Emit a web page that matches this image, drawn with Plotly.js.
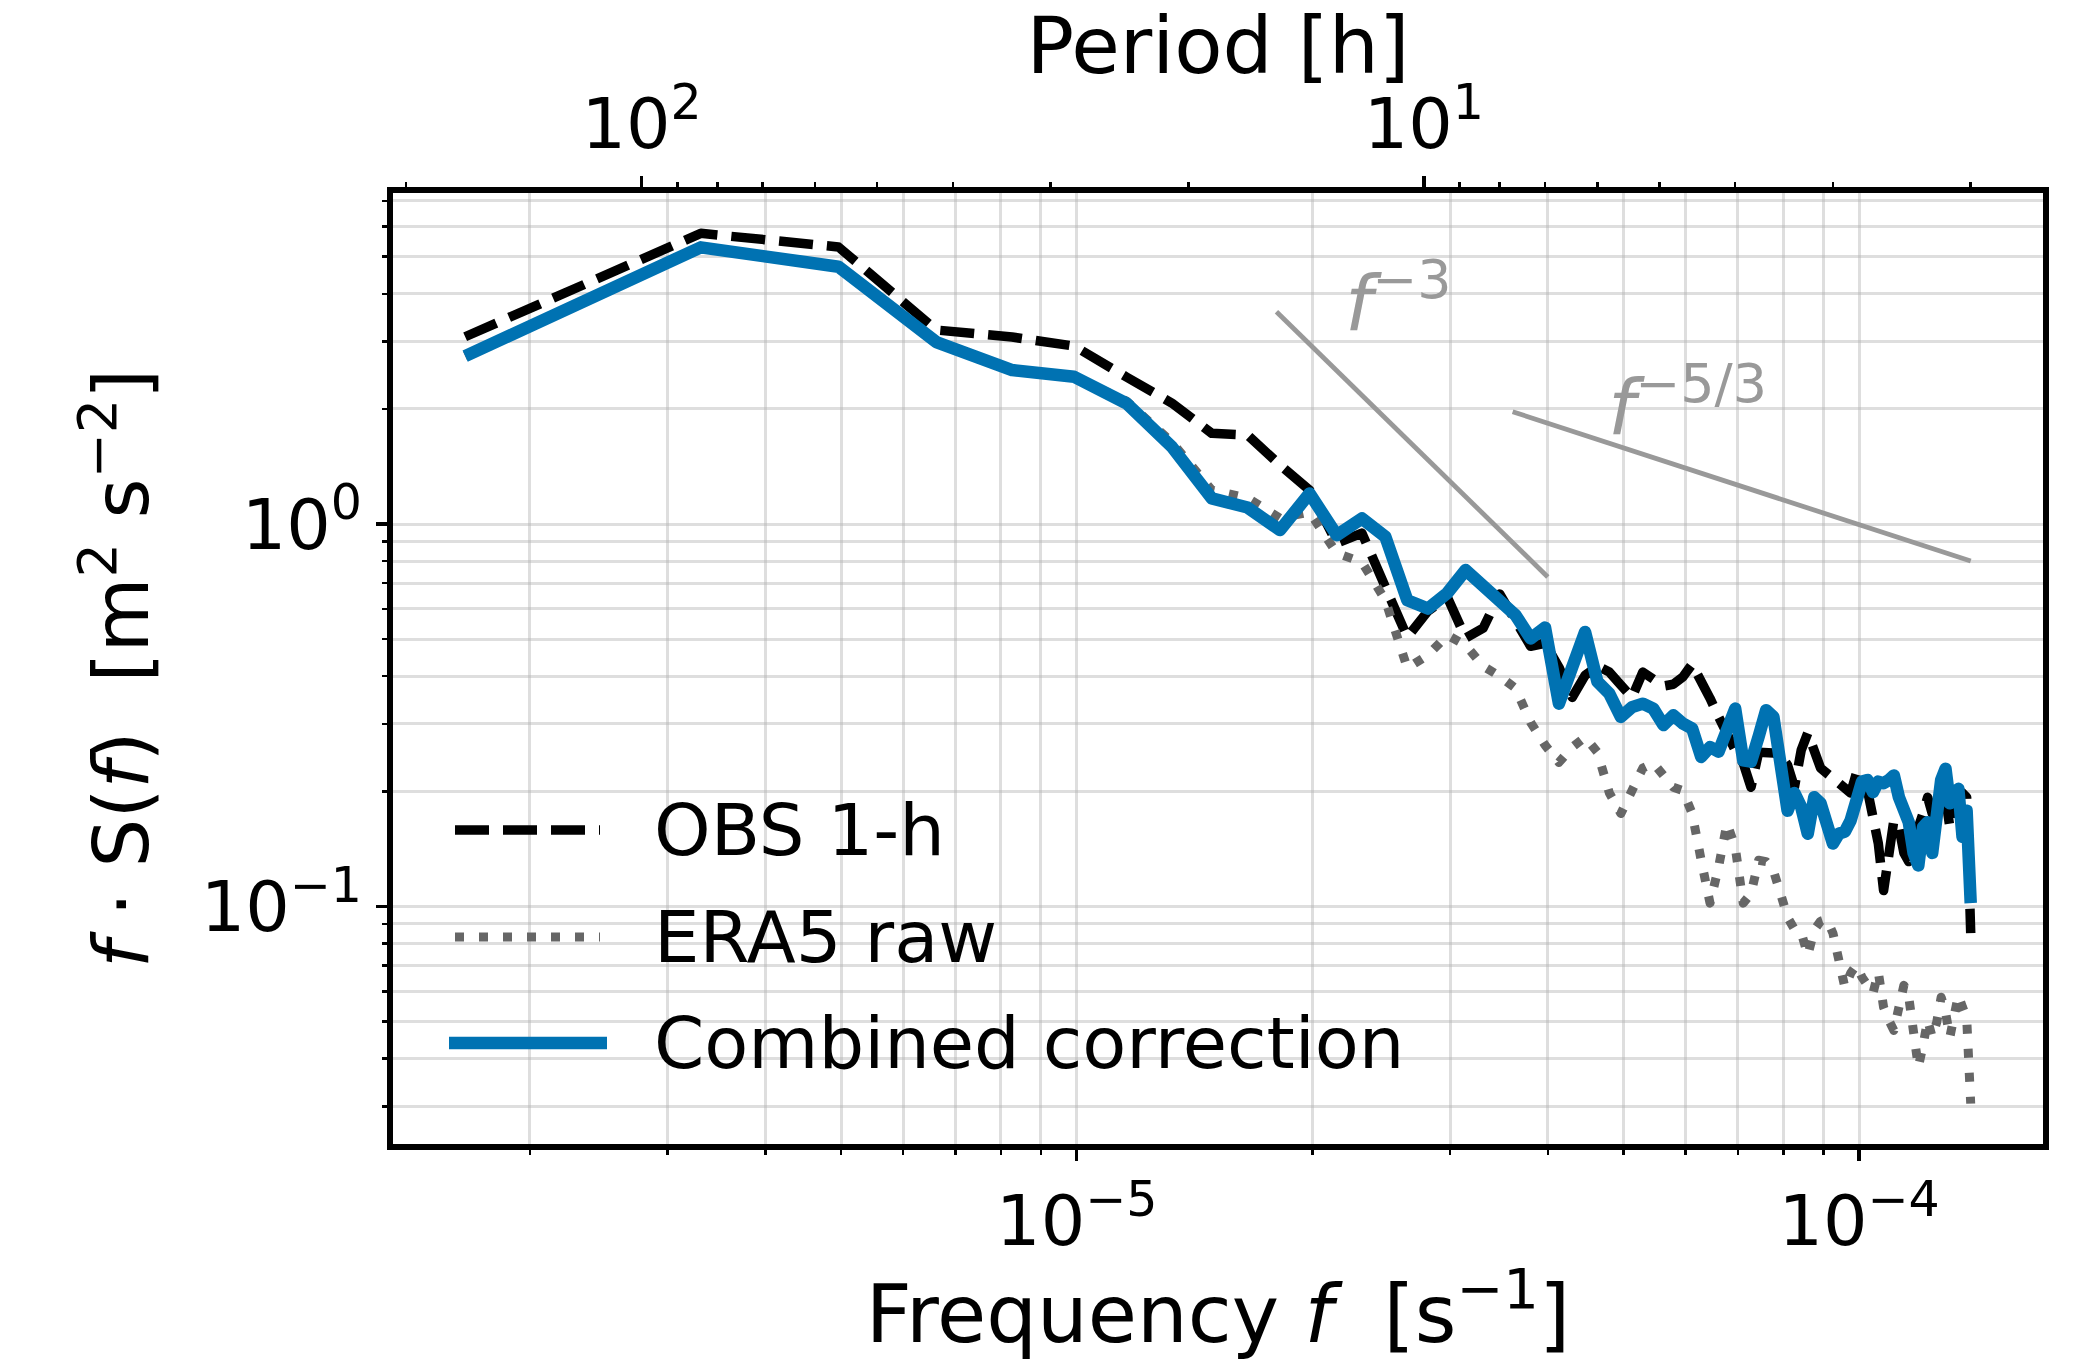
<!DOCTYPE html>
<html><head><meta charset="utf-8">
<script src="https://cdn.plot.ly/plotly-3.0.1.min.js"></script>
<style>
html,body{margin:0;padding:0;background:#fff;}
#chart{width:2077px;height:1361px;}
.scatterlayer .js-line{stroke-linejoin:round;}
</style></head><body><div id="chart"></div>
<script>
// Frequencies in micro-hertz (1e-6 s^-1)
const freq_uHz = [1.653,3.307,4.960,6.614,8.267,9.921,11.574,13.228,14.881,16.534,
 18.188,19.841,21.495,23.148,24.802,26.455,28.108,29.762,31.415,33.069,
 34.722,36.376,38.029,39.683,41.336,42.989,44.643,46.296,47.950,49.603,
 51.257,52.910,54.564,56.217,57.870,59.524,61.177,62.831,64.484,66.138,
 67.791,69.444,71.098,72.751,74.405,76.058,77.712,79.365,81.019,82.672,
 84.325,85.979,87.632,89.286,90.939,92.593,94.246,95.899,97.553,99.206,
 100.860,102.513,104.167,105.820,107.474,109.127,110.780,112.434,114.087,115.741,
 117.394,119.048,120.701,122.354,124.008,125.661,127.315,128.968,130.622,132.275,
 133.929,135.582,137.235,138.889];

const obs1h = [3.088,5.756,5.301,3.216,3.083,2.920,2.423,2.072,1.726,1.708,
 1.426,1.227,0.891,0.947,0.684,0.506,0.592,0.644,0.503,0.534,
 0.656,0.564,0.479,0.488,0.422,0.352,0.402,0.425,0.410,0.379,
 0.352,0.410,0.391,0.377,0.381,0.398,0.430,0.381,0.350,0.313,
 0.280,0.256,0.237,0.205,0.253,0.253,0.252,0.249,0.234,0.205,
 0.256,0.284,0.256,0.230,0.223,0.216,0.211,0.204,0.198,0.223,
 0.218,0.201,0.171,0.146,0.110,0.143,0.168,0.161,0.138,0.131,
 0.149,0.161,0.175,0.193,0.175,0.190,0.182,0.193,0.161,0.168,
 0.186,0.198,0.193,0.0851];

const era5Raw = [2.749,5.290,4.708,2.991,2.527,2.427,2.097,1.637,1.227,1.169,
 1.036,1.074,0.839,0.795,0.632,0.420,0.454,0.512,0.482,0.425,
 0.400,0.372,0.303,0.264,0.238,0.261,0.277,0.253,0.198,0.175,
 0.201,0.230,0.237,0.218,0.205,0.201,0.175,0.132,0.102,0.127,
 0.165,0.143,0.102,0.108,0.132,0.131,0.124,0.108,0.0937,0.0872,
 0.0856,0.0745,0.0867,0.0915,0.0926,0.0851,0.0710,0.0614,0.0669,0.0702,
 0.0653,0.0614,0.0593,0.0673,0.0545,0.0504,0.0474,0.0545,0.0622,0.0579,
 0.0466,0.0380,0.0433,0.0504,0.0455,0.0498,0.0579,0.0529,0.0455,0.0513,
 0.0586,0.0545,0.0513,0.0305];

const combined = [2.749,5.290,4.708,2.991,2.527,2.427,2.068,1.592,1.167,1.104,
 0.964,1.202,0.935,1.034,0.926,0.632,0.601,0.660,0.758,0.688,
 0.632,0.578,0.502,0.536,0.339,0.423,0.522,0.387,0.360,0.313,
 0.332,0.339,0.329,0.298,0.316,0.301,0.292,0.246,0.261,0.254,
 0.295,0.329,0.241,0.239,0.278,0.326,0.313,0.237,0.178,0.198,
 0.182,0.155,0.193,0.186,0.161,0.146,0.155,0.157,0.168,0.197,
 0.212,0.214,0.199,0.212,0.210,0.214,0.220,0.193,0.175,0.166,
 0.138,0.128,0.161,0.166,0.138,0.175,0.214,0.229,0.186,0.193,
 0.203,0.152,0.178,0.102];

// Reference slopes (endpoints), frequency in micro-hertz
const refSteep_uHz = [18.0, 40.0];
const refSteepVal = [3.59, 0.727];
const refShallow_uHz = [36.07, 138.889];
const refShallowVal = [1.966, 0.800];

// Tick definitions
const xMajor = [1e-5, 1e-4];
const xMajorText = ['10<sup>−5</sup>', '10<sup>−4</sup>'];
const xMinor = [2e-6,3e-6,4e-6,5e-6,6e-6,7e-6,8e-6,9e-6,2e-5,3e-5,4e-5,5e-5,6e-5,7e-5,8e-5,9e-5];
const yMajor = [0.1, 1];
const yMajorText = ['10<sup>−1</sup>', '10<sup>0</sup>'];
const yMinor = [0.03,0.04,0.05,0.06,0.07,0.08,0.09,0.2,0.3,0.4,0.5,0.6,0.7,0.8,0.9,2,3,4,5,6,7];
const pMajor = [10, 100];
const pMajorText = ['10<sup>1</sup>', '10<sup>2</sup>'];
const pMinor = [2,3,4,5,6,7,8,9,20,30,40,50,60,70,80,90,200];

const freq = freq_uHz.map(v => v * 1e-6);
const periodH = freq.map(f => 1 / (f * 3600));

const FONT = 'DejaVu Sans';
const L = 390, R = 2046, T = 190, B = 1147;
const px = x => (x - L) / (R - L);
const py = y => (B - y) / (B - T);

const xLo = -5.8778, xHi = -3.7611;
const yLo = -1.6291, yHi = 0.8734;
const LOG3600 = Math.log10(3600);

const gridCol = 'rgba(176,176,176,0.42)';

const traces = [
  {x: freq, y: obs1h, mode: 'lines', name: 'OBS 1-h',
   line: {color: '#000000', width: 9.5, dash: '34px,14px'}, hoverinfo: 'skip'},
  {x: freq, y: era5Raw, mode: 'lines', name: 'ERA5 raw',
   line: {color: '#666666', width: 9, dash: '9px,15px'}, hoverinfo: 'skip'},
  {x: freq, y: combined, mode: 'lines', name: 'Combined correction',
   line: {color: '#0072B2', width: 12.5}, hoverinfo: 'skip'},
  {x: refSteep_uHz.map(v => v * 1e-6), y: refSteepVal, mode: 'lines', showlegend: false,
   line: {color: '#999999', width: 4.8}, hoverinfo: 'skip'},
  {x: refShallow_uHz.map(v => v * 1e-6), y: refShallowVal, mode: 'lines', showlegend: false,
   line: {color: '#999999', width: 4.8}, hoverinfo: 'skip'},
  {x: periodH, y: combined, xaxis: 'x2', mode: 'lines', showlegend: false,
   opacity: 0, line: {width: 0}, hoverinfo: 'skip'}
];

const tickBase = {
  type: 'log', showline: false, zeroline: false, ticks: 'outside',
  ticklen: 13, tickwidth: 3.3, tickcolor: '#000',
  tickfont: {family: FONT, size: 70, color: '#000'},
  tickmode: 'array', automargin: false
};

const layout = {
  width: 2077, height: 1361,
  margin: {l: L, r: 2077 - R, t: T, b: 1361 - B, pad: 0},
  paper_bgcolor: '#ffffff', plot_bgcolor: '#ffffff',
  showlegend: false,
  font: {family: FONT, color: '#000'},
  xaxis: Object.assign({}, tickBase, {
    range: [xLo, xHi], tickvals: xMajor, ticktext: xMajorText,
    showgrid: true, gridcolor: gridCol, gridwidth: 3,
    minor: {tickmode: 'array', tickvals: xMinor, ticks: 'outside', ticklen: 7, tickwidth: 2.5,
            tickcolor: '#000', showgrid: true, gridcolor: gridCol, gridwidth: 3},
    title: {text: 'Frequency <i>f</i>\u00a0\u00a0[s<sup>−1</sup>]', font: {family: FONT, size: 80, color: '#000'}, standoff: 28}
  }),
  xaxis2: Object.assign({}, tickBase, {
    overlaying: 'x', side: 'top', anchor: 'y',
    range: [-xLo - LOG3600, -xHi - LOG3600], tickvals: pMajor, ticktext: pMajorText,
    showgrid: false,
    minor: {tickmode: 'array', tickvals: pMinor, ticks: 'outside', ticklen: 7, tickwidth: 2.5,
            tickcolor: '#000', showgrid: false},
    title: {text: 'Period [h]', font: {family: FONT, size: 79, color: '#000'}, standoff: 5}
  }),
  yaxis: Object.assign({}, tickBase, {
    range: [yLo, yHi], tickvals: yMajor, ticktext: yMajorText,
    showgrid: true, gridcolor: gridCol, gridwidth: 3,
    minor: {tickmode: 'array', tickvals: yMinor, ticks: 'outside', ticklen: 7, tickwidth: 2.5,
            tickcolor: '#000', showgrid: true, gridcolor: gridCol, gridwidth: 3},
    title: {text: '<i>f</i>\u00a0·\u00a0S(<i>f</i>)\u00a0\u00a0[m<sup>2</sup>\u00a0s<sup>−2</sup>]', font: {family: FONT, size: 77, color: '#000'}, standoff: 26}
  }),
  shapes: [
    {type: 'rect', xref: 'paper', yref: 'paper', x0: 0, x1: 1, y0: 0, y1: 1,
     line: {color: '#000', width: 6}, layer: 'above'},
    {type: 'line', xref: 'paper', yref: 'paper', x0: px(455), x1: px(600), y0: py(830), y1: py(830),
     line: {color: '#000', width: 9.5, dash: '34px,14px'}},
    {type: 'line', xref: 'paper', yref: 'paper', x0: px(455), x1: px(600), y0: py(937), y1: py(937),
     line: {color: '#666666', width: 9, dash: '9px,15px'}},
    {type: 'line', xref: 'paper', yref: 'paper', x0: px(449), x1: px(607), y0: py(1043), y1: py(1043),
     line: {color: '#0072B2', width: 12.5}}
  ],
  annotations: [
    {xref: 'paper', yref: 'paper', x: px(652), y: py(830), xanchor: 'left', yanchor: 'middle',
     text: 'OBS 1-h', showarrow: false, font: {family: FONT, size: 72, color: '#000'}},
    {xref: 'paper', yref: 'paper', x: px(652), y: py(937), xanchor: 'left', yanchor: 'middle',
     text: 'ERA5 raw', showarrow: false, font: {family: FONT, size: 72, color: '#000'}},
    {xref: 'paper', yref: 'paper', x: px(652), y: py(1043), xanchor: 'left', yanchor: 'middle',
     text: 'Combined correction', showarrow: false, font: {family: FONT, size: 72, color: '#000'}},
    {xref: 'paper', yref: 'paper', x: px(1343), y: py(298), xanchor: 'left', yanchor: 'middle',
     text: '<i>f</i><sup>−3</sup>', showarrow: false, font: {family: FONT, size: 77, color: '#999999'}},
    {xref: 'paper', yref: 'paper', x: px(1606), y: py(402), xanchor: 'left', yanchor: 'middle',
     text: '<i>f</i><sup>−5/3</sup>', showarrow: false, font: {family: FONT, size: 77, color: '#999999'}}
  ]
};

Plotly.newPlot('chart', traces, layout, {staticPlot: true, displayModeBar: false});
</script></body></html>
